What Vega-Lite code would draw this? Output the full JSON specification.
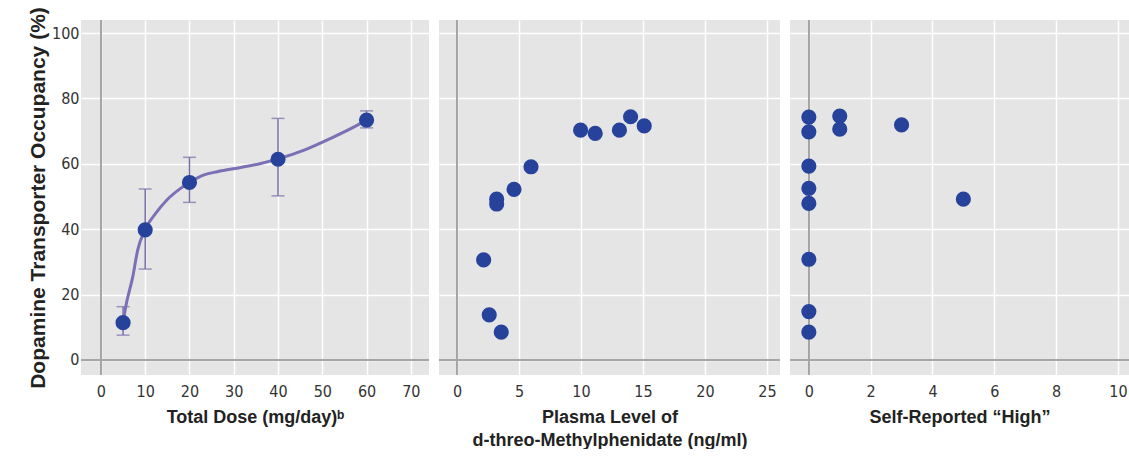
{
  "$schema": "https://vega.github.io/schema/vega-lite/v6.json",
  "background": "white",
  "padding": {"left": 27, "top": 6, "right": 0, "bottom": 0},
  "spacing": 10,
  "bounds": "flush",
  "datasets": {
    "dose": [
      {"dose": 5, "occ": 11.4, "lo": 7.6, "hi": 16.3},
      {"dose": 10, "occ": 39.8, "lo": 27.8, "hi": 52.3},
      {"dose": 20, "occ": 54.3, "lo": 48.2, "hi": 62.0},
      {"dose": 40, "occ": 61.4, "lo": 50.2, "hi": 73.9},
      {"dose": 60, "occ": 73.4, "lo": 71.0, "hi": 76.2}
    ],
    "curve": [
      {"dose": 5, "occ": 11.4},
      {"dose": 5.6, "occ": 16.3},
      {"dose": 7.2, "occ": 25.5},
      {"dose": 8.3, "occ": 33.6},
      {"dose": 10, "occ": 40.0},
      {"dose": 12.4, "occ": 44.9},
      {"dose": 15, "occ": 49.1},
      {"dose": 18, "occ": 52.5},
      {"dose": 20, "occ": 54.3},
      {"dose": 23.3, "occ": 56.6},
      {"dose": 26.3, "occ": 57.6},
      {"dose": 31.6, "occ": 58.9},
      {"dose": 36.1, "occ": 60.1},
      {"dose": 40, "occ": 61.5},
      {"dose": 45.9, "occ": 64.2},
      {"dose": 51.9, "occ": 67.8},
      {"dose": 57.2, "occ": 71.3},
      {"dose": 60, "occ": 73.4}
    ],
    "plasma": [
      {"plasma": 2.15, "occ": 30.6},
      {"plasma": 2.6, "occ": 13.8},
      {"plasma": 3.57, "occ": 8.5},
      {"plasma": 3.2, "occ": 49.2},
      {"plasma": 3.2, "occ": 47.7},
      {"plasma": 4.6, "occ": 52.2},
      {"plasma": 5.97, "occ": 59.1},
      {"plasma": 9.97, "occ": 70.3},
      {"plasma": 11.15, "occ": 69.3},
      {"plasma": 13.1, "occ": 70.3},
      {"plasma": 14.0, "occ": 74.4},
      {"plasma": 15.1, "occ": 71.6}
    ],
    "high": [
      {"high": 0, "occ": 74.3},
      {"high": 0, "occ": 69.8},
      {"high": 0, "occ": 59.3},
      {"high": 0, "occ": 52.5},
      {"high": 0, "occ": 47.9},
      {"high": 0, "occ": 30.8},
      {"high": 0, "occ": 14.8},
      {"high": 0, "occ": 8.5},
      {"high": 1, "occ": 74.6},
      {"high": 1, "occ": 70.6},
      {"high": 3, "occ": 71.9},
      {"high": 5, "occ": 49.2}
    ]
  },
  "hconcat": [
    {
      "width": 348,
      "height": 355,
      "layer": [
        {
          "data": {"name": "dose"},
          "mark": {"type": "rule", "color": "#a6a6a6", "strokeWidth": 1.5},
          "encoding": {
            "x": {"datum": 0, "type": "quantitative", "scale": {"domain": [-4.5, 74.1], "nice": false, "zero": false},
              "axis": {"values": [0, 10, 20, 30, 40, 50, 60, 70], "title": "Total Dose (mg/day)ᵇ", "labelPadding": 8, "titlePadding": 9}}
          }
        },
        {
          "data": {"name": "dose"},
          "mark": {"type": "rule", "color": "#a6a6a6", "strokeWidth": 1.5},
          "encoding": {
            "y": {"datum": 0, "type": "quantitative", "scale": {"domain": [-4.6, 104], "nice": false, "zero": false},
              "axis": {"values": [0, 20, 40, 60, 80, 100], "title": "Dopamine Transporter Occupancy (%)", "titleFontSize": 21, "labelPadding": 2, "titlePadding": 3}}
          }
        },
        {
          "data": {"name": "dose"},
          "mark": {"type": "rule", "color": "#7a6ea8", "strokeWidth": 1.5},
          "encoding": {
            "x": {"field": "dose", "type": "quantitative"},
            "y": {"field": "lo", "type": "quantitative"},
            "y2": {"field": "hi"}
          }
        },
        {
          "data": {"name": "dose"},
          "mark": {"type": "tick", "orient": "horizontal", "color": "#7a6ea8", "thickness": 1.5, "size": 13},
          "encoding": {
            "x": {"field": "dose", "type": "quantitative"},
            "y": {"field": "lo", "type": "quantitative"}
          }
        },
        {
          "data": {"name": "dose"},
          "mark": {"type": "tick", "orient": "horizontal", "color": "#7a6ea8", "thickness": 1.5, "size": 13},
          "encoding": {
            "x": {"field": "dose", "type": "quantitative"},
            "y": {"field": "hi", "type": "quantitative"}
          }
        },
        {
          "data": {"name": "curve"},
          "mark": {"type": "line", "color": "#7b70b5", "strokeWidth": 3, "interpolate": "monotone"},
          "encoding": {
            "x": {"field": "dose", "type": "quantitative"},
            "y": {"field": "occ", "type": "quantitative"}
          }
        },
        {
          "data": {"name": "dose"},
          "mark": {"type": "circle", "color": "#26429b", "opacity": 1, "size": 230},
          "encoding": {
            "x": {"field": "dose", "type": "quantitative"},
            "y": {"field": "occ", "type": "quantitative"}
          }
        }
      ]
    },
    {
      "width": 341,
      "height": 355,
      "layer": [
        {
          "data": {"name": "plasma"},
          "mark": {"type": "rule", "color": "#a6a6a6", "strokeWidth": 1.5},
          "encoding": {
            "x": {"datum": 0, "type": "quantitative", "scale": {"domain": [-1.45, 26.05], "nice": false, "zero": false},
              "axis": {"values": [0, 5, 10, 15, 20, 25], "title": ["Plasma Level of", "d-threo-Methylphenidate (ng/ml)"], "titleLineHeight": 23, "labelPadding": 8, "titlePadding": 9}}
          }
        },
        {
          "data": {"name": "plasma"},
          "mark": {"type": "rule", "color": "#a6a6a6", "strokeWidth": 1.5},
          "encoding": {
            "y": {"datum": 0, "type": "quantitative", "scale": {"domain": [-4.6, 104], "nice": false, "zero": false},
              "axis": {"values": [0, 20, 40, 60, 80, 100], "labels": false, "title": null}}
          }
        },
        {
          "data": {"name": "plasma"},
          "mark": {"type": "circle", "color": "#26429b", "opacity": 1, "size": 230},
          "encoding": {
            "x": {"field": "plasma", "type": "quantitative"},
            "y": {"field": "occ", "type": "quantitative"}
          }
        }
      ]
    },
    {
      "width": 339,
      "height": 355,
      "layer": [
        {
          "data": {"name": "high"},
          "mark": {"type": "rule", "color": "#a6a6a6", "strokeWidth": 1.5},
          "encoding": {
            "x": {"datum": 0, "type": "quantitative", "scale": {"domain": [-0.61, 10.36], "nice": false, "zero": false},
              "axis": {"values": [0, 2, 4, 6, 8, 10], "title": "Self-Reported “High”", "labelPadding": 8, "titlePadding": 9}}
          }
        },
        {
          "data": {"name": "high"},
          "mark": {"type": "rule", "color": "#a6a6a6", "strokeWidth": 1.5},
          "encoding": {
            "y": {"datum": 0, "type": "quantitative", "scale": {"domain": [-4.6, 104], "nice": false, "zero": false},
              "axis": {"values": [0, 20, 40, 60, 80, 100], "labels": false, "title": null}}
          }
        },
        {
          "data": {"name": "high"},
          "mark": {"type": "circle", "color": "#26429b", "opacity": 1, "size": 230},
          "encoding": {
            "x": {"field": "high", "type": "quantitative"},
            "y": {"field": "occ", "type": "quantitative"}
          }
        }
      ]
    }
  ],
  "config": {
    "view": {"fill": "#e5e5e5", "stroke": null},
    "axis": {
      "grid": true,
      "gridColor": "#ffffff",
      "gridWidth": 1.5,
      "domain": false,
      "ticks": false,
      "labelFont": "'DejaVu Sans Condensed', Roboto, sans-serif",
      "labelFontSize": 16,
      "labelColor": "#333333",
      "titleFont": "Liberation Sans",
      "titleFontWeight": "bold",
      "titleFontSize": 18,
      "titleColor": "#222222"
    }
  }
}
